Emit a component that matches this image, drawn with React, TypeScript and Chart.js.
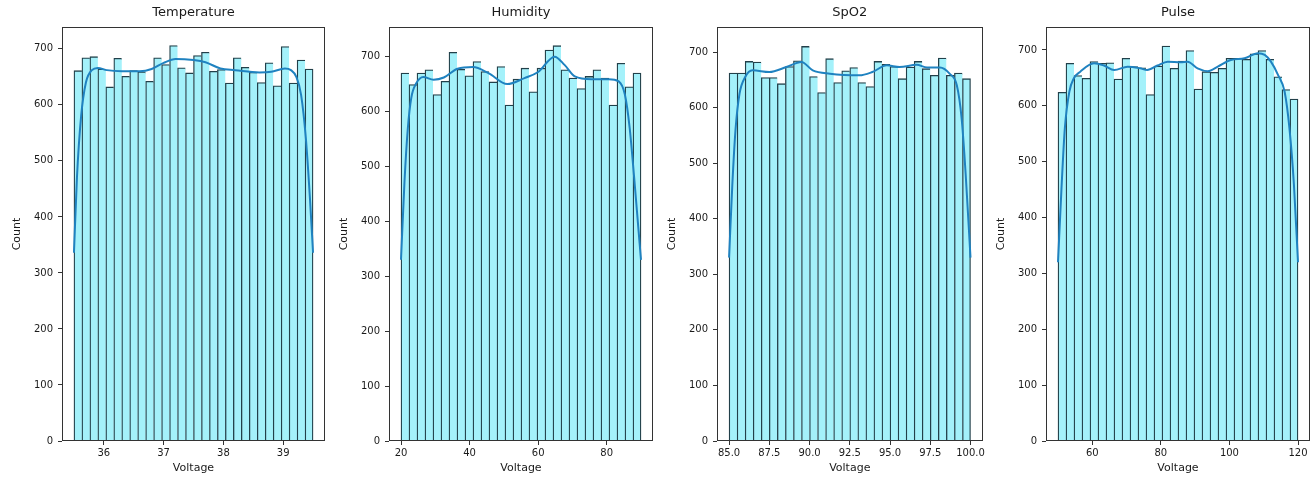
import React, { useEffect, useRef } from "react";
import { Chart, registerables } from "chart.js";

Chart.register(...registerables);

// ---------- data ----------
const TITLES = ["Temperature", "Humidity", "SpO2", "Pulse"];
const X_LABEL = "Voltage";
const Y_LABEL = "Count";
const Y_TICKS = [0, 100, 200, 300, 400, 500, 600, 700];

const tempRange = [35.5, 39.5];
const humRange = [20, 90];
const spo2Range = [85, 100];
const pulseRange = [50, 120];

const tempXTicks = [36, 37, 38, 39];
const humXTicks = [20, 40, 60, 80];
const spo2XTicks = [85, 87.5, 90, 92.5, 95, 97.5, 100];
const pulseXTicks = [60, 80, 100, 120];

const tempCounts = [661, 684, 686, 664, 632, 683, 651, 661, 659, 642, 684, 672, 706, 666, 657, 688, 694, 660, 663, 639, 684, 667, 658, 640, 675, 634, 704, 639, 680, 664];
const humCounts = [670, 649, 670, 676, 631, 655, 708, 677, 665, 691, 673, 654, 682, 612, 659, 679, 636, 679, 712, 720, 676, 661, 642, 664, 676, 661, 612, 688, 645, 670];
const spo2Counts = [662, 662, 683, 682, 654, 654, 643, 674, 684, 710, 656, 627, 688, 645, 666, 672, 645, 638, 683, 678, 674, 652, 673, 683, 670, 658, 689, 658, 662, 652];
const pulseCounts = [624, 676, 654, 649, 679, 676, 677, 648, 685, 670, 668, 620, 671, 707, 667, 680, 699, 630, 661, 660, 667, 685, 685, 683, 693, 699, 683, 652, 629, 612];

const tempKdeX = [35.5, 35.55, 35.62, 35.7, 35.8, 35.9, 36.05, 36.3, 36.6, 36.8, 37.0, 37.2, 37.5, 37.7, 37.95, 38.2, 38.6, 38.8, 39.03, 39.13, 39.22, 39.3, 39.38, 39.45, 39.5];
const tempKdeY = [336, 470, 580, 640, 662, 666, 662, 660, 660, 664, 675, 682, 680, 676, 665, 662, 658, 659, 665, 662, 650, 618, 540, 430, 336];

const humKdeX = [20, 21, 22, 23, 24.5, 26.5, 29.5, 32.5, 36.5, 41, 45.5, 51, 56, 60, 64.8, 67.7, 70.7, 75.6, 80.6, 83.5, 85.3, 86.7, 88, 89.2, 90];
const humKdeY = [330, 470, 570, 625, 652, 663, 658, 662, 678, 681, 670, 650, 661, 672, 700, 685, 664, 659, 659, 655, 631, 570, 480, 390, 330];

const spo2KdeX = [85, 85.2, 85.4, 85.65, 86, 86.46, 87.5, 88.56, 89.5, 90.2, 91.26, 93.1, 93.9, 94.8, 95.6, 96.65, 97.3, 98.1, 98.7, 99.15, 99.45, 99.7, 100];
const spo2KdeY = [330, 460, 560, 625, 655, 667, 664, 673, 682, 667, 661, 658, 664, 676, 673, 677, 672, 672, 661, 640, 580, 480, 330];

const pulseKdeX = [50, 51, 52, 53.3, 54.6, 56.5, 60.5, 63.4, 66.4, 70.3, 74, 76, 79, 82, 85.8, 87.8, 90.7, 93.7, 96.6, 100.4, 104.4, 108.3, 110.3, 112.1, 114.2, 116.1, 117.5, 118.8, 120];
const pulseKdeY = [320, 450, 560, 625, 649, 661, 676, 672, 664, 670, 667, 664, 672, 679, 678, 679, 667, 662, 670, 682, 685, 694, 691, 679, 655, 625, 560, 460, 320];

// ---------- layout / style ----------
const BAR_FILL = "#a4f1fa";
const BAR_EDGE = "#22404a";
const KDE_COLOR = "#1f82c0";
const TEXT = "#1a1a1a";
const FONT = "'DejaVu Sans', sans-serif";
const H = 477;
const AX_LEFT_W = 62;
const AX_TOP = 27;
const TITLE_Y = 13;

type Panel = {
  title: string;
  range: number[];
  counts: number[];
  kdeX: number[];
  kdeY: number[];
  xTicks: number[];
  decimals: number;
  yMax: number;
  axLeft: number;
  axRight: number;
};

const PANELS: Panel[] = [
  { title: TITLES[0], range: tempRange, counts: tempCounts, kdeX: tempKdeX, kdeY: tempKdeY, xTicks: tempXTicks, decimals: 0, yMax: 739, axLeft: 62, axRight: 325 },
  { title: TITLES[1], range: humRange, counts: humCounts, kdeX: humKdeX, kdeY: humKdeY, xTicks: humXTicks, decimals: 0, yMax: 754, axLeft: 389, axRight: 653 },
  { title: TITLES[2], range: spo2Range, counts: spo2Counts, kdeX: spo2KdeX, kdeY: spo2KdeY, xTicks: spo2XTicks, decimals: 1, yMax: 745, axLeft: 717, axRight: 983 },
  { title: TITLES[3], range: pulseRange, counts: pulseCounts, kdeX: pulseKdeX, kdeY: pulseKdeY, xTicks: pulseXTicks, decimals: 0, yMax: 741, axLeft: 1046, axRight: 1310 },
];

const boxPlugin = {
  id: "box",
  afterDraw(chart: any) {
    const { ctx, chartArea } = chart;
    const l = Math.round(chartArea.left) + 0.5;
    const t = Math.round(chartArea.top) + 0.5;
    const r = Math.round(chartArea.right) - 0.5;
    const b = Math.round(chartArea.bottom) - 0.5;
    ctx.save();
    ctx.strokeStyle = "#333";
    ctx.lineWidth = 1;
    ctx.strokeRect(l, t, r - l, b - t);
    // axes title centred on the plotting area
    const title = chart.options.plugins.axTitle?.text;
    if (title) {
      ctx.fillStyle = TEXT;
      ctx.font = `13px ${FONT}`;
      ctx.textAlign = "center";
      ctx.textBaseline = "middle";
      ctx.fillText(title, (chartArea.left + chartArea.right) / 2, TITLE_Y);
    }
    ctx.restore();
  },
};

function HistPanel({ p }: { p: Panel }) {
  const ref = useRef<HTMLCanvasElement | null>(null);
  const left = p.axLeft - AX_LEFT_W;
  const width = p.axRight + 4 - left;

  useEffect(() => {
    if (!ref.current) return;
    const n = p.counts.length;
    const [lo, hi] = p.range;
    const bw = (hi - lo) / n;
    const barData = p.counts.map((c, i) => ({ x: lo + (i + 0.5) * bw, y: c }));
    const kdeData = p.kdeX.map((x, i) => ({ x, y: p.kdeY[i] }));
    const margin = (hi - lo) * 0.05;

    const chart = new Chart(ref.current, {
      type: "bar",
      data: {
        datasets: [
          {
            type: "line",
            data: kdeData,
            borderColor: KDE_COLOR,
            borderWidth: 2,
            pointRadius: 0,
            cubicInterpolationMode: "monotone",
            fill: false,
            order: 0,
          } as any,
          {
            type: "bar",
            data: barData,
            backgroundColor: BAR_FILL,
            borderColor: BAR_EDGE,
            borderWidth: (ctx: any) => ({ top: 1.3, left: 1.3, bottom: 0, right: ctx.dataIndex === n - 1 ? 1.3 : 0 }),
            borderSkipped: false,
            barPercentage: 1,
            categoryPercentage: 1,
            order: 1,
          } as any,
        ],
      },
      options: {
        responsive: false,
        animation: false,
        devicePixelRatio: 1,
        layout: { padding: { left: 0, right: 4, top: AX_TOP, bottom: 0 } },
        plugins: {
          legend: { display: false },
          tooltip: { enabled: false },
          title: { display: false },
          axTitle: { text: p.title },
        },
        scales: {
          x: {
            type: "linear",
            min: lo - margin,
            max: hi + margin,
            offset: false,
            afterBuildTicks: (s: any) => {
              s.ticks = p.xTicks.map((v) => ({ value: v }));
            },
            afterFit: (s: any) => {
              s.height = 36;
            },
            ticks: {
              color: TEXT,
              font: { family: FONT, size: 10 },
              padding: 2,
              maxRotation: 0,
              autoSkip: false,
              callback: (v: any) => Number(v).toFixed(p.decimals),
            },
            grid: { display: true, offset: false, drawOnChartArea: false, drawTicks: true, tickLength: 4, color: "#333" },
            border: { display: false },
            title: {
              display: true,
              text: X_LABEL,
              color: TEXT,
              font: { family: FONT, size: 11 },
              padding: { top: 0, bottom: 2 },
            },
          },
          y: {
            type: "linear",
            min: 0,
            max: p.yMax,
            afterBuildTicks: (s: any) => {
              s.ticks = Y_TICKS.map((v) => ({ value: v }));
            },
            afterFit: (s: any) => {
              s.width = AX_LEFT_W;
            },
            ticks: {
              color: TEXT,
              font: { family: FONT, size: 10 },
              padding: 5,
              autoSkip: false,
            },
            grid: { display: true, offset: false, drawOnChartArea: false, drawTicks: true, tickLength: 4, color: "#333" },
            border: { display: false },
            title: {
              display: true,
              text: Y_LABEL,
              color: TEXT,
              font: { family: FONT, size: 11 },
              padding: { top: 11, bottom: 0 },
            },
          },
        },
      },
      plugins: [boxPlugin],
    } as any);
    return () => chart.destroy();
  }, [p]);

  return (
    <canvas
      ref={ref}
      width={width}
      height={H}
      style={{ position: "absolute", left, top: 0, width, height: H }}
    />
  );
}

export default function App() {
  return (
    <div
      style={{
        position: "fixed",
        left: 0,
        top: 0,
        width: 1314,
        height: H,
        background: "#fff",
        overflow: "hidden",
      }}
    >
      {PANELS.map((p) => (
        <HistPanel key={p.title} p={p} />
      ))}
    </div>
  );
}
